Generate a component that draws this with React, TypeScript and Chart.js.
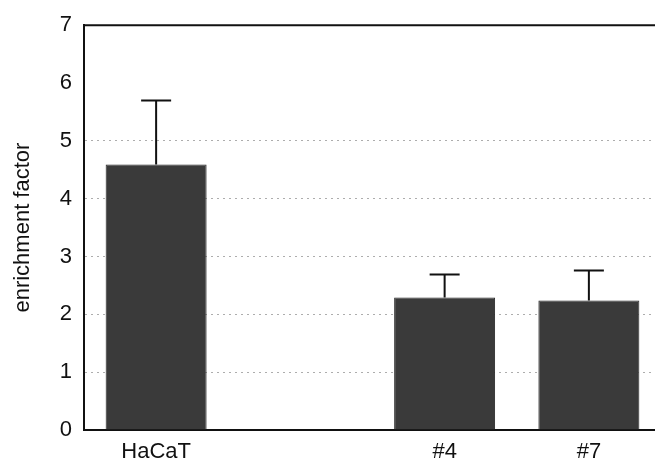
import React, { useEffect, useRef } from "react";
import { Chart, registerables } from "chart.js";

Chart.register(...registerables);

const categories = ["HaCaT", "", "#4", "#7"];
const values = [4.59, null, 2.29, 2.24];
const errors = [1.11, null, 0.4, 0.52];
const yTicks = [0, 1, 2, 3, 4, 5, 6, 7];

const FONT = "'Liberation Sans', Arial, sans-serif";

const errorBarPlugin = {
  id: "errorBars",
  afterDatasetsDraw(chart: any) {
    const { ctx, scales } = chart;
    const xs = scales.x;
    const ys = scales.y;
    ctx.save();
    ctx.strokeStyle = "#111";
    ctx.lineWidth = 2;
    values.forEach((v, i) => {
      const e = errors[i];
      if (v == null || e == null) return;
      const x = xs.getPixelForValue(i);
      const y0 = ys.getPixelForValue(v);
      const y1 = ys.getPixelForValue(v + e);
      ctx.beginPath();
      ctx.moveTo(x, y0);
      ctx.lineTo(x, y1);
      ctx.moveTo(x - 15, y1);
      ctx.lineTo(x + 15, y1);
      ctx.stroke();
    });
    ctx.restore();
  },
};

const topBorderPlugin = {
  id: "topBorder",
  afterDraw(chart: any) {
    const { ctx, chartArea } = chart;
    ctx.save();
    ctx.strokeStyle = "#111";
    ctx.lineWidth = 2;
    ctx.beginPath();
    ctx.moveTo(chartArea.left, chartArea.top);
    ctx.lineTo(chartArea.right, chartArea.top);
    ctx.stroke();
    ctx.restore();
  },
};

export default function App() {
  const ref = useRef<HTMLCanvasElement | null>(null);
  useEffect(() => {
    document.body.style.margin = "0";
    if (!ref.current) return;
    const chart = new Chart(ref.current, {
      type: "bar",
      data: {
        labels: categories,
        datasets: [
          {
            data: values as any,
            backgroundColor: "#3a3a3a",
            borderColor: "#262626",
            borderWidth: 1,
            barPercentage: 0.7,
            categoryPercentage: 1,
          },
        ],
      },
      options: {
        animation: false,
        responsive: false,
        maintainAspectRatio: false,
        layout: { padding: { top: 21, right: 0, left: 0, bottom: 0 } },
        plugins: { legend: { display: false }, tooltip: { enabled: false } },
        scales: {
          x: {
            grid: { display: false, drawTicks: false },
            border: { display: true, color: "#111", width: 2 },
            ticks: {
              color: "#111",
              font: { family: FONT, size: 22 },
              padding: 9,
              maxRotation: 0,
              autoSkip: false,
            },
            afterFit(scale: any) {
              scale.height = 31;
            },
          },
          y: {
            min: 0,
            max: 7,
            afterBuildTicks(scale: any) {
              scale.ticks = yTicks.map((v) => ({ value: v }));
            },
            grid: {
              drawTicks: false,
              color: (c: any) =>
                c.tick && c.tick.value >= 1 && c.tick.value <= 5 ? "#adadad" : "rgba(0,0,0,0)",
              lineWidth: 1,
            },
            border: { display: true, color: "#111", width: 2, dash: [2, 4] as any },
            ticks: {
              color: "#111",
              font: { family: FONT, size: 22 },
              padding: 12,
            },
            title: {
              display: true,
              text: "enrichment factor",
              color: "#111",
              font: { family: FONT, size: 22 },
              padding: { top: 10, bottom: 0 },
            },
            afterFit(scale: any) {
              scale.width = 84;
            },
          },
        },
      },
      plugins: [errorBarPlugin, topBorderPlugin],
    });
    return () => chart.destroy();
  }, []);
  return (
    <div style={{ width: 655, height: 461, overflow: "hidden", position: "relative" }}>
      <canvas ref={ref} width={661} height={461} style={{ display: "block", width: 661, height: 461 }} />
    </div>
  );
}
